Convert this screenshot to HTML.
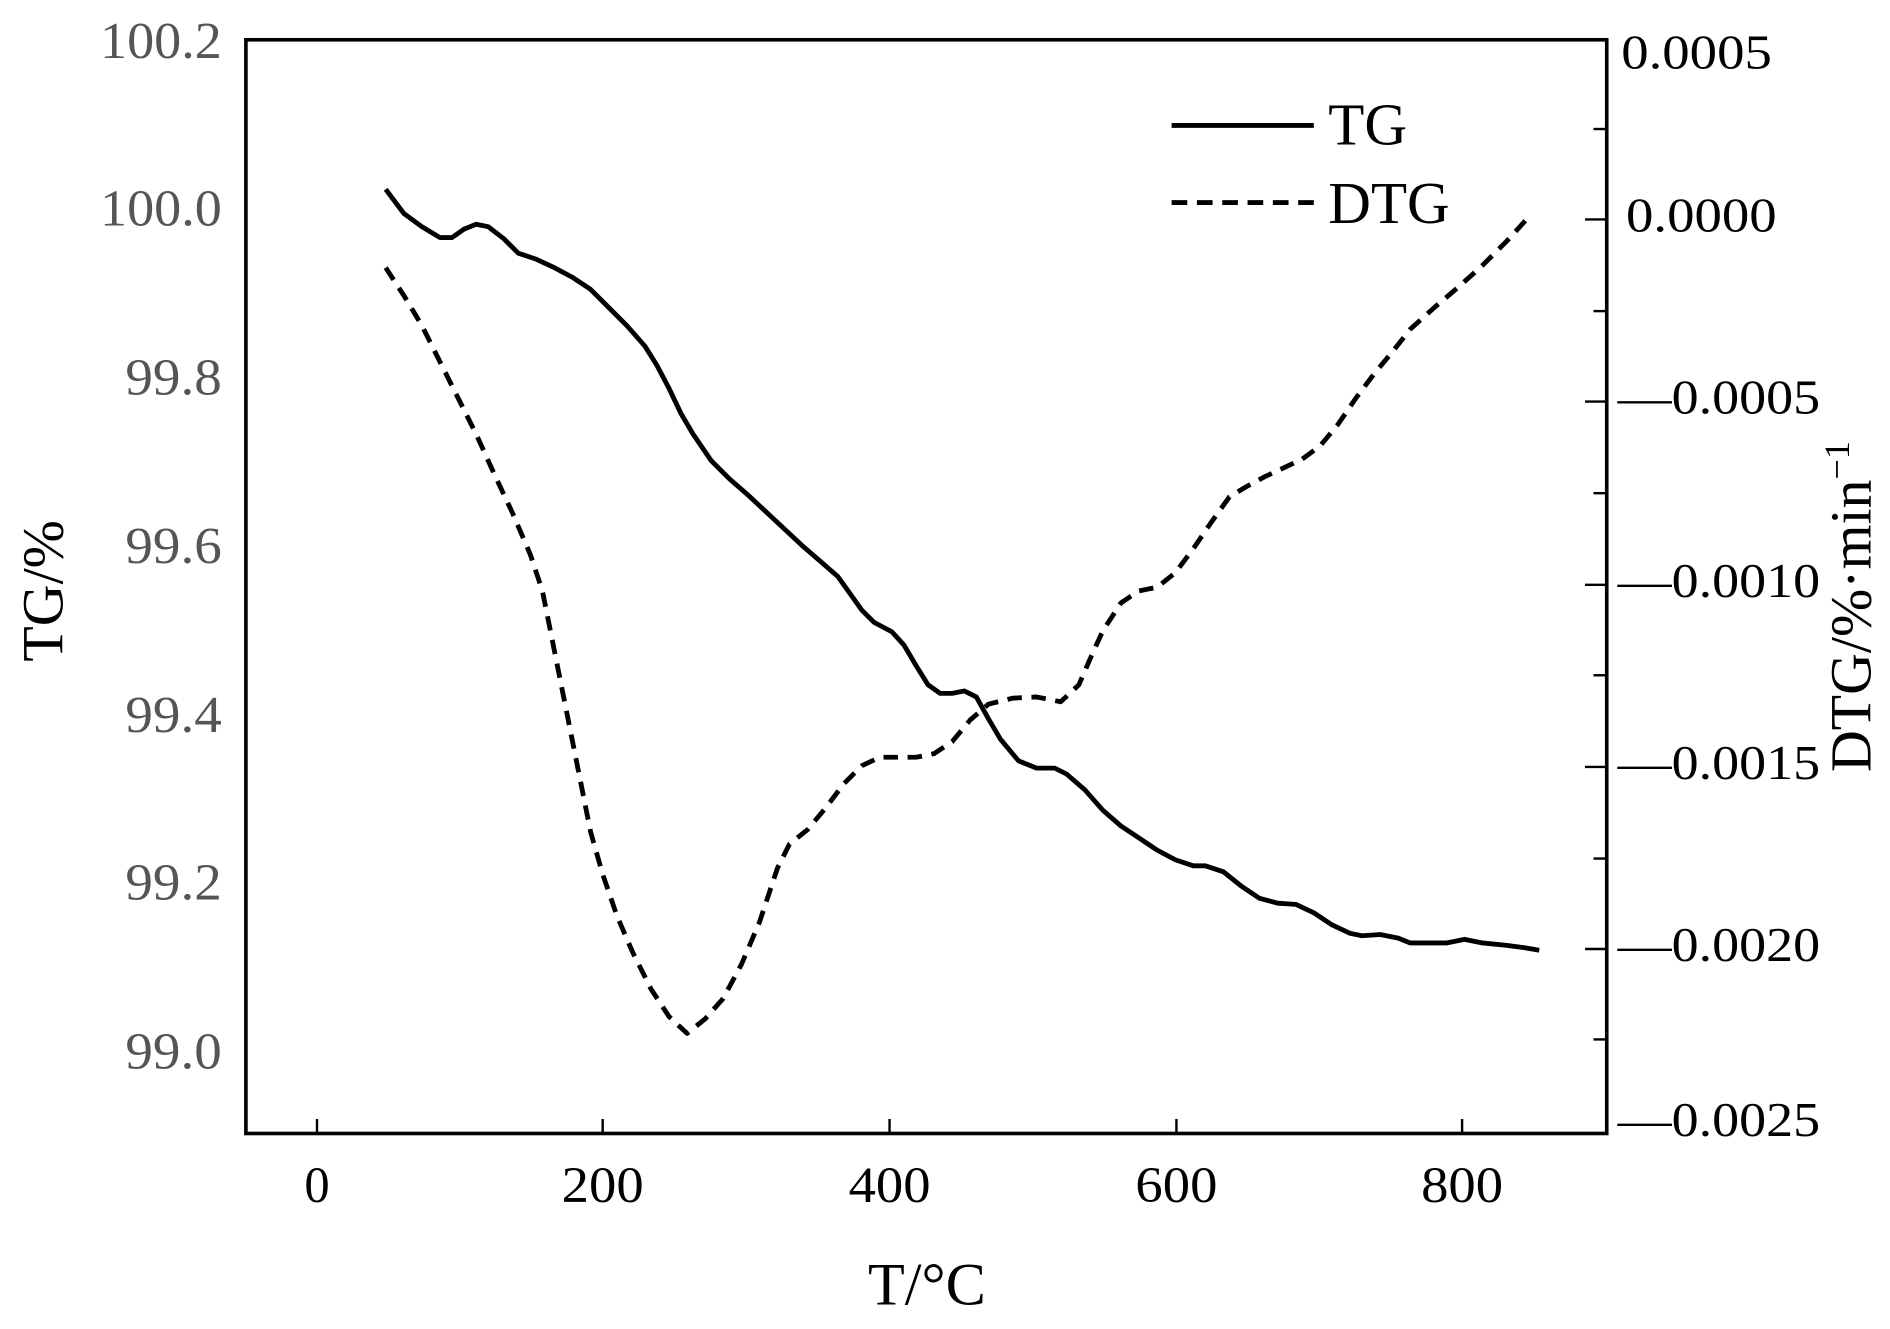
<!DOCTYPE html>
<html><head><meta charset="utf-8"><style>html,body{margin:0;padding:0;background:#fff}</style></head>
<body>
<svg width="1890" height="1324" viewBox="0 0 1568 1098" preserveAspectRatio="none" xmlns="http://www.w3.org/2000/svg" font-family="Liberation Serif, serif">
<rect width="1568" height="1098" fill="#fff"/>
<rect x="204" y="33" width="1129" height="907" fill="none" stroke="#000" stroke-width="3"/>
<g stroke="#000" stroke-width="2">
<line x1="263" y1="940" x2="263" y2="928"/><line x1="500" y1="940" x2="500" y2="928"/><line x1="738" y1="940" x2="738" y2="928"/><line x1="976" y1="940" x2="976" y2="928"/><line x1="1213" y1="940" x2="1213" y2="928"/>
<line x1="1333" y1="33" x2="1315" y2="33"/><line x1="1333" y1="107" x2="1322" y2="107"/>
<line x1="1333" y1="182" x2="1315" y2="182"/><line x1="1333" y1="258" x2="1322" y2="258"/>
<line x1="1333" y1="333" x2="1315" y2="333"/><line x1="1333" y1="409" x2="1322" y2="409"/>
<line x1="1333" y1="485" x2="1315" y2="485"/><line x1="1333" y1="560" x2="1322" y2="560"/>
<line x1="1333" y1="636" x2="1315" y2="636"/><line x1="1333" y1="712" x2="1322" y2="712"/>
<line x1="1333" y1="787" x2="1315" y2="787"/><line x1="1333" y1="862" x2="1322" y2="862"/>
</g>
<g font-size="43" fill="#555" text-anchor="end" lengthAdjust="spacingAndGlyphs">
<text x="184" y="48" textLength="101" lengthAdjust="spacingAndGlyphs">100.2</text>
<text x="184" y="187" textLength="101" lengthAdjust="spacingAndGlyphs">100.0</text>
<text x="184" y="327" textLength="80" lengthAdjust="spacingAndGlyphs">99.8</text>
<text x="184" y="467" textLength="80" lengthAdjust="spacingAndGlyphs">99.6</text>
<text x="184" y="607" textLength="80" lengthAdjust="spacingAndGlyphs">99.4</text>
<text x="184" y="746" textLength="80" lengthAdjust="spacingAndGlyphs">99.2</text>
<text x="184" y="886" textLength="80" lengthAdjust="spacingAndGlyphs">99.0</text>
</g>
<g font-size="42" fill="#000" text-anchor="middle">
<text x="263" y="997">0</text>
<text x="500" y="997" textLength="68" lengthAdjust="spacingAndGlyphs">200</text>
<text x="738" y="997" textLength="68" lengthAdjust="spacingAndGlyphs">400</text>
<text x="976" y="997" textLength="68" lengthAdjust="spacingAndGlyphs">600</text>
<text x="1213" y="997" textLength="68" lengthAdjust="spacingAndGlyphs">800</text>
</g>
<g font-size="40" fill="#000">
<text x="1345" y="57" textLength="125" lengthAdjust="spacingAndGlyphs">0.0005</text>
<text x="1349" y="192" textLength="125" lengthAdjust="spacingAndGlyphs">0.0000</text>
<text x="1342" y="343" textLength="168" lengthAdjust="spacingAndGlyphs">—0.0005</text>
<text x="1342" y="495" textLength="168" lengthAdjust="spacingAndGlyphs">—0.0010</text>
<text x="1342" y="646" textLength="168" lengthAdjust="spacingAndGlyphs">—0.0015</text>
<text x="1342" y="797" textLength="168" lengthAdjust="spacingAndGlyphs">—0.0020</text>
<text x="1342" y="942" textLength="168" lengthAdjust="spacingAndGlyphs">—0.0025</text>
</g>
<text x="0" y="0" font-size="48" text-anchor="middle" transform="translate(52,490) rotate(-90)">TG/%</text>
<text x="0" y="0" font-size="48" text-anchor="middle" transform="translate(1552,503) rotate(-90)">DTG/%·min<tspan dy="-18" font-size="30">−1</tspan></text>
<text x="769" y="1082" font-size="50" text-anchor="middle">T/°C</text>
<line x1="972" y1="104" x2="1090" y2="104" stroke="#000" stroke-width="4"/>
<text x="1102" y="120" font-size="49">TG</text>
<line x1="972" y1="168" x2="1090" y2="168" stroke="#000" stroke-width="4" stroke-dasharray="13,8"/>
<text x="1102" y="185" font-size="49">DTG</text>
<polyline fill="none" stroke="#000" stroke-width="4" stroke-linejoin="round" points="320,157 335,177 350,188 365,197 375,197 385,190 395,186 405,188 418,198 430,210 445,215 460,222 475,230 490,240 505,255 520,270 535,287 545,303 555,322 565,343 575,360 590,382 605,397 620,410 635,424 650,438 665,452 680,465 695,478 705,492 715,506 725,516 740,524 750,535 760,552 770,568 780,575 790,575 800,573 810,578 820,596 830,613 845,631 860,637 875,637 885,642 900,655 915,672 930,685 945,695 960,705 975,713 990,718 1000,718 1015,723 1030,735 1045,745 1060,749 1075,750 1090,757 1105,767 1120,774 1130,776 1145,775 1160,778 1170,782 1185,782 1200,782 1215,779 1230,782 1250,784 1265,786 1277,788"/>
<polyline fill="none" stroke="#000" stroke-width="4" stroke-dasharray="12,8" stroke-linejoin="round" points="320,222 335,245 350,270 365,300 380,330 395,360 410,393 425,425 440,460 450,490 460,540 470,590 480,640 490,690 500,725 512,760 525,790 540,820 555,843 570,857 585,845 600,828 615,800 630,765 645,720 655,700 670,688 685,670 700,650 715,635 730,628 745,628 760,628 775,625 790,615 805,597 820,584 840,579 860,578 880,582 895,568 905,545 915,523 930,500 945,490 960,487 975,475 990,455 1005,433 1020,412 1035,403 1050,395 1065,388 1080,381 1095,370 1110,352 1125,330 1140,310 1155,292 1170,273 1190,255 1210,238 1230,220 1250,200 1270,178"/>
</svg>
</body></html>
